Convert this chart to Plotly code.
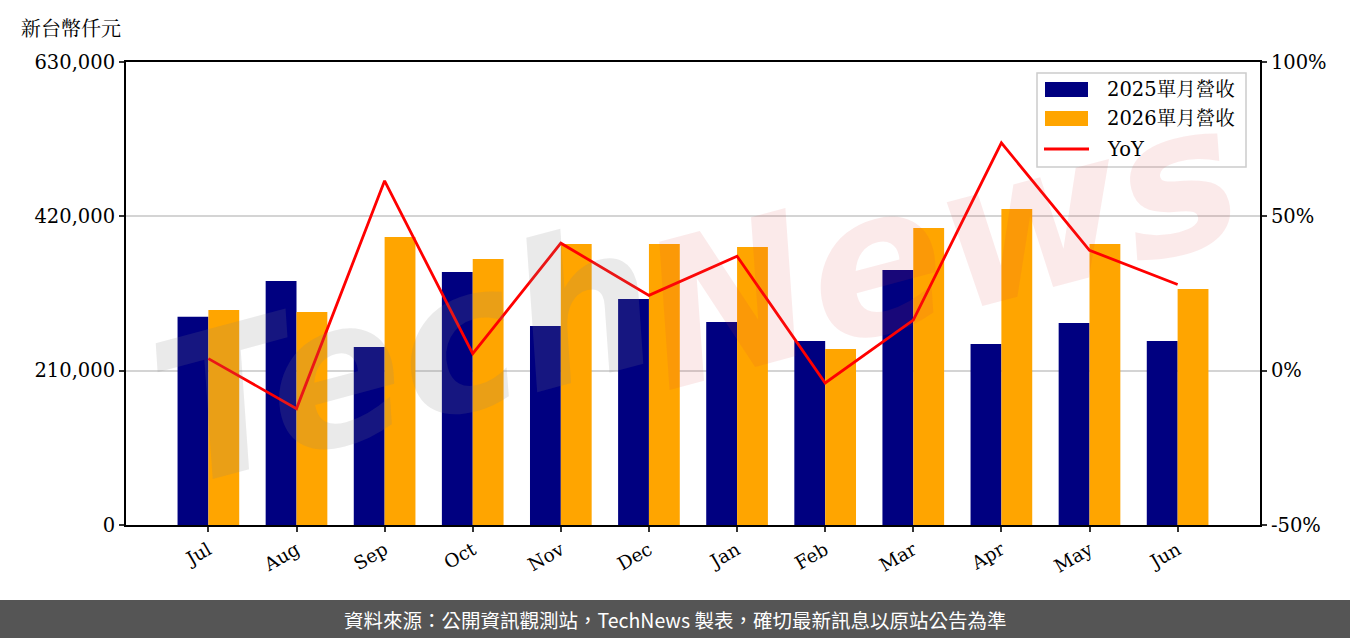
import plotly.graph_objects as go

months = ["Jul", "Aug", "Sep", "Oct", "Nov", "Dec", "Jan", "Feb", "Mar", "Apr", "May", "Jun"]
rev_2025 = [283400, 332000, 242200, 344300, 270800, 307500, 276200, 250400, 347000, 246300, 274900, 250400]
rev_2026 = [292500, 289800, 391900, 362000, 382400, 382400, 378300, 239500, 404100, 430000, 382400, 321100]
yoy_pct = [3.9, -12.3, 61.5, 5.5, 41.3, 24.4, 37.1, -4.0, 16.4, 73.8, 39.0, 27.9]

left_ticks = [0, 210000, 420000, 630000]
right_ticks = [-50, 0, 50, 100]
right_labels = ["-50%", "0%", "50%", "100%"]

series_names = ["2025單月營收", "2026單月營收", "YoY"]
series_colors = ["#000080", "#FFA500", "#FF0000"]

SERIF = "DejaVu Serif, Noto Serif CJK TC, Noto Sans CJK TC, serif"
CJK = "Noto Sans CJK TC, sans-serif"

# plot area in pixels
L, R, T, B = 126, 1260, 62, 525
W, H = R - L, B - T


def px(x):
    return (x - L) / W


def py(y):
    return (B - y) / H


fig = go.Figure()
fig.add_trace(go.Bar(x=months, y=rev_2025, name=series_names[0], marker_color=series_colors[0],
                     marker_line_width=0))
fig.add_trace(go.Bar(x=months, y=rev_2026, name=series_names[1], marker_color=series_colors[1],
                     marker_line_width=0))
fig.add_trace(go.Scatter(x=months, y=yoy_pct, name=series_names[2], mode="lines",
                         line=dict(color=series_colors[2], width=2.8), yaxis="y2"))

fig.update_layout(
    width=1350, height=638,
    margin=dict(l=L, r=1350 - R, t=T, b=638 - B),
    paper_bgcolor="white", plot_bgcolor="white",
    barmode="group", bargap=0.3, bargroupgap=0,
    font=dict(family=SERIF, size=19, color="black"),
    showlegend=False,
    xaxis=dict(
        type="category", range=[-0.935, 11.935],
        showline=True, linecolor="black", linewidth=2, mirror=True,
        ticks="outside", ticklen=5, tickwidth=2, tickcolor="#333",
        tickangle=-30, tickfont=dict(family=SERIF, size=18.5),
        showgrid=False, zeroline=False,
    ),
    yaxis=dict(
        range=[0, 630000], tickvals=left_ticks, tickformat=",d",
        showline=True, linecolor="black", linewidth=2,
        ticks="outside", ticklen=5, tickwidth=2, tickcolor="#333",
        showgrid=True, gridcolor="#d4d4d4", gridwidth=2, zeroline=False,
        tickfont=dict(family=SERIF, size=19.5),
    ),
    yaxis2=dict(
        overlaying="y", side="right", range=[-50, 100],
        tickvals=right_ticks, ticktext=right_labels,
        showline=True, linecolor="black", linewidth=2,
        ticks="outside", ticklen=5, tickwidth=2, tickcolor="#333",
        showgrid=False, zeroline=False,
        tickfont=dict(family=SERIF, size=19.5),
    ),
)

# watermark (two parts, semi-transparent, drawn over the plot)
fig.add_annotation(
    xref="paper", yref="paper", x=px(405), y=py(355), xanchor="center", yanchor="middle",
    text="Tech", textangle=-15, showarrow=False,
    font=dict(family="DejaVu Sans", size=200, color="rgba(128,128,128,0.17)", weight="bold",
              style="italic"),
)
fig.add_annotation(
    xref="paper", yref="paper", x=px(940), y=py(245), xanchor="center", yanchor="middle",
    text="News", textangle=-15, showarrow=False,
    font=dict(family="DejaVu Sans", size=200, color="rgba(220,60,60,0.11)", weight="bold",
              style="italic"),
)

# custom legend
fig.add_shape(type="rect", xref="paper", yref="paper", x0=px(1037), x1=px(1246), y0=py(167), y1=py(73),
              fillcolor="rgba(255,255,255,0.85)", line=dict(color="#cccccc", width=1.5), layer="above")
rows = [89, 118, 149]
for i, (name, col) in enumerate(zip(series_names, series_colors)):
    yc = rows[i]
    if i < 2:
        fig.add_shape(type="rect", xref="paper", yref="paper", x0=px(1045), x1=px(1088),
                      y0=py(yc + 8), y1=py(yc - 7), fillcolor=col, line_width=0, layer="above")
    else:
        fig.add_shape(type="line", xref="paper", yref="paper", x0=px(1044), x1=px(1089),
                      y0=py(yc), y1=py(yc), line=dict(color=col, width=3), layer="above")
    fig.add_annotation(xref="paper", yref="paper", x=px(1105), y=py(yc), xanchor="left",
                       yanchor="middle", text=name, showarrow=False,
                       font=dict(family=SERIF, size=19.5, color="black"))

# unit label
fig.add_annotation(
    xref="paper", yref="paper", x=px(19), y=py(27), xanchor="left", yanchor="middle",
    text="新台幣仟元", showarrow=False,
    font=dict(family="Noto Serif CJK TC, Noto Sans CJK TC", size=20, color="black"),
)

# footer band
fig.add_shape(type="rect", xref="paper", yref="paper", x0=-0.2, x1=1.2,
              y0=py(640), y1=py(600), fillcolor="#555555", line_width=0, layer="above")
fig.add_annotation(
    xref="paper", yref="paper", x=px(675), y=py(619), xanchor="center", yanchor="middle",
    text="資料來源：公開資訊觀測站，TechNews 製表，確切最新訊息以原站公告為準",
    showarrow=False, font=dict(family=CJK, size=19.5, color="white"),
)

fig.write_html("out.html")
